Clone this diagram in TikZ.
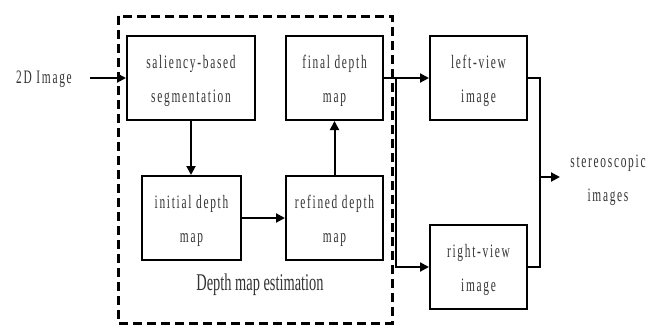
\documentclass[tikz,border=0pt]{standalone}
\usepackage{fontspec}
\setmainfont{Liberation Serif}
\newfontfamily\spacedfont[LetterSpace=9,FakeStretch=0.6]{Liberation Serif}
\newfontfamily\narrowfont[FakeStretch=0.6]{Liberation Serif}
\usetikzlibrary{arrows.meta}
\newcommand{\twolines}[2]{\rule{0pt}{20pt}#1\\#2}
\begin{document}
\begin{tikzpicture}[x=1pt,y=-1pt,
  box/.style={draw, line width=2pt, rectangle, inner sep=0pt, align=center,
    font=\spacedfont\fontsize{19}{34}\selectfont, text=black!80},
  lbl/.style={inner sep=0pt, align=center, font=\spacedfont\fontsize{19}{34}\selectfont, text=black!80},
  arr/.style={line width=2pt, -{Triangle[length=9pt,width=9pt]}},
  ln/.style={line width=2pt},
  dashbox/.style={line width=3pt, dash pattern=on 9pt off 5pt}]
\useasboundingbox (0,0) rectangle (646,327);
% dashed group
\draw[dashbox] (118,16) rectangle (392,323);
% boxes
\node[box, minimum width=128pt, minimum height=84pt] (sal) at (191,78) {\twolines{saliency-based}{segmentation}};
\node[box, minimum width=97pt, minimum height=84pt] (fin) at (334.5,78) {\twolines{final depth}{map}};
\node[box, minimum width=99pt, minimum height=84pt] (ini) at (191.5,218) {\twolines{initial depth}{map}};
\node[box, minimum width=97pt, minimum height=84pt] (ref) at (334.5,218) {\twolines{refined depth}{map}};
\node[box, minimum width=97pt, minimum height=84pt] (lv) at (478.5,78) {\twolines{left-view}{image}};
\node[box, minimum width=97pt, minimum height=84pt] (rv) at (478.5,267) {\twolines{right-view}{image}};
% labels
\node[lbl] (img) at (44,79) {2D Image};
\node[inner sep=0pt, font=\narrowfont\fontsize{24}{26}\selectfont, text=black!80] (dme) at (260,285) {Depth map estimation};
\node[lbl] (st) at (608,180) {stereoscopic\\images};
% coordinates
\coordinate (imgout) at (90,78);
\coordinate (br) at (396,78);
\coordinate (jn) at (540,177);
\coordinate (stin) at (560,177);
% connectors
\draw[arr] (imgout) -- (sal.west |- imgout);
\draw[arr] (sal.south) -- (ini.north -| sal.south);
\draw[arr] (ini.east) -- (ref.west);
\draw[arr] (ref.north) -- (fin.south);
\draw[arr] (fin.east) -- (lv.west);
\draw[arr] (br) |- (rv.west);
\draw[ln] (lv.east) -| (jn) |- (rv.east);
\draw[arr] (jn) -- (stin);
\end{tikzpicture}
\end{document}
